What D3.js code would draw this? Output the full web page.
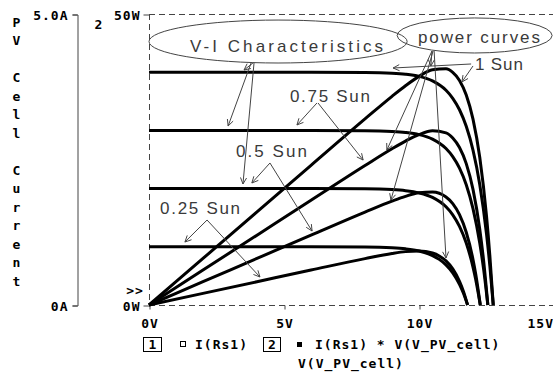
<!DOCTYPE html>
<html>
<head>
<meta charset="utf-8">
<script src="https://cdn.jsdelivr.net/npm/d3@7"></script>
<style>
  html, body { margin: 0; padding: 0; background: #fff; }
  svg { display: block; }
  .mono { font-family: "DejaVu Sans Mono", "Liberation Mono", monospace; font-weight: bold; font-size: 13px; letter-spacing: 1px; fill: #000; }
  .note { font-family: "Liberation Sans", Arial, sans-serif; font-size: 17px; fill: #3a3a3a; }
</style>
</head>
<body>
<script>
// PV cell sweep: current (trace 1) and power (trace 2) against cell voltage
const sunLabels = ["1 Sun", "0.75 Sun", "0.5 Sun", "0.25 Sun"];

const voltage1Sun = [0, 2, 4, 6, 8, 9, 9.5, 10, 10.5, 11, 11.25, 11.5, 11.75, 12, 12.25, 12.5, 12.625, 12.75];
const current1Sun = [4.0, 4.0, 4.0, 4.0, 3.996, 3.983, 3.965, 3.928, 3.85, 3.689, 3.552, 3.355, 3.071, 2.662, 2.072, 1.223, 0.667, 0];
const power1Sun   = [0, 8.0, 16.0, 24.0, 31.97, 35.85, 37.67, 39.28, 40.43, 40.58, 39.96, 38.58, 36.08, 31.94, 25.38, 15.29, 8.42, 0];

const voltage075Sun = [0, 2, 4, 6, 8, 9, 9.5, 10, 10.5, 11, 11.25, 11.5, 11.75, 12, 12.25, 12.4, 12.55];
const current075Sun = [3.0, 3.0, 3.0, 3.0, 2.996, 2.983, 2.965, 2.928, 2.85, 2.688, 2.55, 2.352, 2.067, 1.656, 1.064, 0.59, 0];
const power075Sun   = [0, 6.0, 12.0, 18.0, 23.97, 26.85, 28.17, 29.28, 29.93, 29.57, 28.69, 27.05, 24.29, 19.87, 13.03, 7.32, 0];

const voltage05Sun = [0, 2, 4, 6, 8, 9, 9.5, 10, 10.5, 11, 11.25, 11.5, 11.75, 12, 12.1, 12.27];
const current05Sun = [2.0, 2.0, 2.0, 2.0, 1.996, 1.983, 1.965, 1.927, 1.849, 1.687, 1.549, 1.35, 1.064, 0.652, 0.44, 0];
const power05Sun   = [0, 4.0, 8.0, 12.0, 15.97, 17.85, 18.67, 19.27, 19.41, 18.56, 17.43, 15.53, 12.5, 7.82, 5.32, 0];

const voltage025Sun = [0, 2, 4, 6, 8, 9, 9.5, 10, 10.5, 10.75, 11, 11.25, 11.5, 11.65, 11.8];
const current025Sun = [1.0, 1.0, 1.0, 1.0, 0.996, 0.983, 0.965, 0.928, 0.85, 0.784, 0.689, 0.552, 0.355, 0.197, 0];
const power025Sun   = [0, 2.0, 4.0, 6.0, 7.97, 8.85, 9.17, 9.28, 8.93, 8.43, 7.58, 6.21, 4.08, 2.30, 0];

const xTickValues = [0, 5, 10, 15];
const xTickLabels = ["0V", "5V", "10V", "15V"];
const currentTickValues = [0, 5];
const currentTickLabels = ["0A", "5.0A"];
const powerTickValues = [0, 50];
const powerTickLabels = ["0W", "50W"];
const yAxisTitle = "PV Cell Current";

// callouts, placed in volts / watts
const calloutTexts = ["V-I Characteristics", "power curves", "1 Sun", "0.75 Sun", "0.5 Sun", "0.25 Sun"];
const calloutAnchors = [[1.52, 43.47], [9.96, 45.02], [12.07, 40.38], [5.22, 34.88], [3.22, 25.43], [0.41, 15.64]];
const calloutWidths = [193, 122, 48, 80, 71, 80];
const bubbleCenters = [[4.78, 45.27], [12.06, 46.31]];
const bubbleRadii = [[4.78, 3.69], [2.87, 3.01]];
const pointerStarts = [[3.85, 41.58], [3.78, 41.58], [3.89, 41.58], [6.22, 34.71], [6.26, 34.71], [4.48, 24.40], [4.48, 24.40],
                       [2.15, 14.60], [2.15, 14.60], [11.93, 41.41], [12.0, 41.07], [10.48, 43.64], [10.48, 43.64], [10.52, 43.64], [10.56, 43.64]];
const pointerEnds   = [[3.52, 40.38], [2.93, 30.76], [3.48, 20.79], [5.48, 30.93], [7.93, 24.91], [3.81, 20.96], [6.04, 12.71],
                       [1.33, 10.82], [4.11, 4.81], [9.04, 40.72], [11.59, 38.32], [10.44, 41.07], [8.81, 26.63], [8.96, 18.04], [11.0, 8.08]];

const W = 553, H = 373;
const svg = d3.select("body").append("svg").attr("width", W).attr("height", H);

const x = d3.scaleLinear().domain([0, 15]).range([149, 554]);
const yI = d3.scaleLinear().domain([0, 5]).range([305, 14]);
const yP = d3.scaleLinear().domain([0, 50]).range([305, 14]);

// dashed plot frame
const frame = svg.append("g").attr("fill", "none").attr("stroke", "#444").attr("stroke-width", 1).attr("stroke-dasharray", "6,4");
frame.append("line").attr("x1", x(0)).attr("x2", W).attr("y1", yP(50) + 0.5).attr("y2", yP(50) + 0.5);
frame.append("line").attr("x1", x(0) + 0.5).attr("x2", x(0) + 0.5).attr("y1", yP(50)).attr("y2", yP(0));
frame.append("line").attr("x1", x(0)).attr("x2", W).attr("y1", yP(0) + 0.5).attr("y2", yP(0) + 0.5);

// x axis
const xAxis = svg.append("g").attr("transform", `translate(0.5,${yP(0) + 0.5})`)
  .call(d3.axisBottom(x).tickValues(xTickValues).tickFormat((d, i) => xTickLabels[i]).tickSize(4).tickPadding(9));
xAxis.select(".domain").remove();
xAxis.selectAll("line").attr("stroke", "#444");
xAxis.selectAll("text").attr("class", "mono").attr("fill", null).style("font-size", null);
xAxis.selectAll(".tick").filter(d => d === 15).select("text").attr("text-anchor", "end").attr("dx", -1);

// axis 1: current
const axI = svg.append("g").attr("transform", "translate(77.5,0.5)")
  .call(d3.axisLeft(yI).tickValues(currentTickValues).tickFormat((d, i) => currentTickLabels[i]).tickSize(5).tickPadding(4));
axI.select(".domain").attr("stroke", "#444");
axI.selectAll("line").attr("stroke", "#444");
axI.selectAll("text").attr("class", "mono").attr("fill", null).style("font-size", null).attr("dy", "0.35em");

// axis 2: power
const axP = svg.append("g").attr("transform", `translate(${x(0) + 0.5},0.5)`)
  .call(d3.axisLeft(yP).tickValues(powerTickValues).tickFormat((d, i) => powerTickLabels[i]).tickSize(6).tickPadding(3));
axP.select(".domain").remove();
axP.selectAll("line").attr("stroke", "#444");
axP.selectAll("text").attr("class", "mono").attr("fill", null).style("font-size", null).attr("dy", "0.35em");

svg.append("text").attr("class", "mono").attr("x", 99).attr("y", 25).attr("text-anchor", "middle").attr("dominant-baseline", "middle").text("2");
svg.append("text").attr("class", "mono").attr("x", 135).attr("y", 291).attr("text-anchor", "middle").attr("dominant-baseline", "middle").text(">>");

// stacked axis title
svg.append("g").selectAll("text").data(yAxisTitle.split("")).join("text")
  .attr("class", "mono").attr("x", 17).attr("y", (d, i) => 23 + i * 18.5)
  .attr("text-anchor", "middle").attr("dominant-baseline", "middle").text(d => d);

// traces
const currentLine = d3.line().x(d => x(d[0])).y(d => yI(d[1])).curve(d3.curveMonotoneX);
const powerLine = d3.line().x(d => x(d[0])).y(d => yP(d[1])).curve(d3.curveMonotoneX);
const sweeps = [
  [voltage1Sun, current1Sun, power1Sun],
  [voltage075Sun, current075Sun, power075Sun],
  [voltage05Sun, current05Sun, power05Sun],
  [voltage025Sun, current025Sun, power025Sun]
];
const traces = svg.append("g").attr("fill", "none").attr("stroke", "#000").attr("stroke-width", 3).attr("stroke-linejoin", "round");
sweeps.forEach(([v, cur, pw]) => {
  traces.append("path").attr("d", currentLine(v.map((d, i) => [d, cur[i]])));
  traces.append("path").attr("d", powerLine(v.map((d, i) => [d, pw[i]])));
});

// callout bubbles, pointers and labels
const notes = svg.append("g");
notes.selectAll("ellipse").data(bubbleCenters).join("ellipse")
  .attr("cx", d => x(d[0])).attr("cy", d => yP(d[1]))
  .attr("rx", (d, i) => x(bubbleRadii[i][0]) - x(0)).attr("ry", (d, i) => yP(0) - yP(bubbleRadii[i][1]))
  .attr("fill", "none").attr("stroke", "#444").attr("stroke-width", 1);

const pointer = notes.append("g").attr("fill", "none").attr("stroke", "#444").attr("stroke-width", 1);
pointerStarts.forEach((s, i) => {
  const x1 = x(s[0]), y1 = yP(s[1]);
  const x2 = x(pointerEnds[i][0]), y2 = yP(pointerEnds[i][1]);
  const a = Math.atan2(y2 - y1, x2 - x1);
  const L = 7, spread = 0.45;
  pointer.append("path").attr("d",
    `M${x1},${y1}L${x2},${y2}` +
    `M${x2 - L * Math.cos(a - spread)},${y2 - L * Math.sin(a - spread)}L${x2},${y2}` +
    `L${x2 - L * Math.cos(a + spread)},${y2 - L * Math.sin(a + spread)}`);
});

notes.selectAll("text").data(calloutTexts).join("text")
  .attr("class", "note")
  .attr("x", (d, i) => x(calloutAnchors[i][0])).attr("y", (d, i) => yP(calloutAnchors[i][1]))
  .attr("textLength", (d, i) => calloutWidths[i]).attr("lengthAdjust", "spacing")
  .text(d => d);

// legend
const legend = svg.append("g");
legend.append("rect").attr("x", 143.5).attr("y", 337.5).attr("width", 18).attr("height", 14).attr("fill", "none").attr("stroke", "#000");
legend.append("text").attr("class", "mono").attr("x", 153).attr("y", 345).attr("text-anchor", "middle").attr("dominant-baseline", "middle").text("1");
legend.append("rect").attr("x", 180.5).attr("y", 341.5).attr("width", 5).attr("height", 5).attr("fill", "none").attr("stroke", "#000");
legend.append("text").attr("class", "mono").attr("x", 195).attr("y", 345).attr("dominant-baseline", "middle").text("I(Rs1)");
legend.append("rect").attr("x", 263.5).attr("y", 337.5).attr("width", 17).attr("height", 14).attr("fill", "none").attr("stroke", "#000");
legend.append("text").attr("class", "mono").attr("x", 272.5).attr("y", 345).attr("text-anchor", "middle").attr("dominant-baseline", "middle").text("2");
legend.append("rect").attr("x", 297).attr("y", 342).attr("width", 5).attr("height", 5).attr("fill", "#000");
legend.append("text").attr("class", "mono").attr("x", 315).attr("y", 345).attr("dominant-baseline", "middle").text("I(Rs1) * V(V_PV_cell)");
legend.append("text").attr("class", "mono").attr("x", 298).attr("y", 364).attr("dominant-baseline", "middle").text("V(V_PV_cell)");
</script>
</body>
</html>
